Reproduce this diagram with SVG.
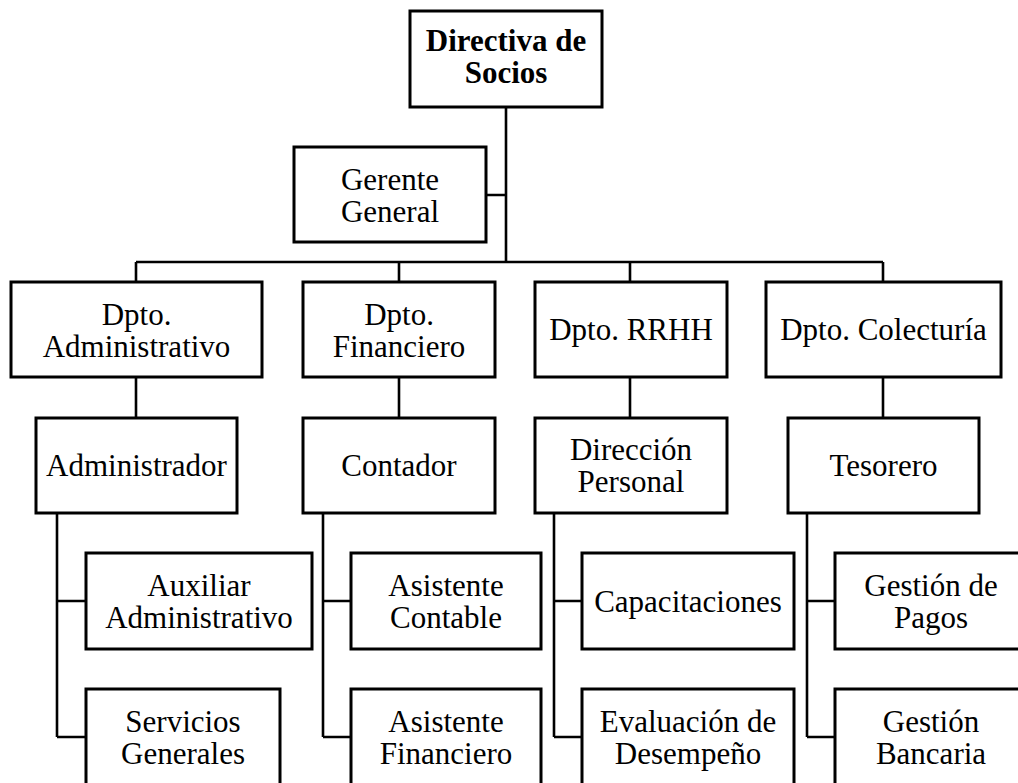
<svg xmlns="http://www.w3.org/2000/svg" width="1018" height="783" viewBox="0 0 1018 783">
<style>
.box{fill:#fff;stroke:#000;stroke-width:3}
.t{font-family:"Liberation Serif","Times New Roman",serif;font-size:31px;fill:#000;text-anchor:middle}
.b{font-weight:bold}
.c{fill:none;stroke:#000;stroke-width:2.6}
</style>
<rect width="1018" height="783" fill="#fff"/>
<g id="connectors">
<path class="c" d="M506,107 V262 M486,195 H506 M136,262 H883 M136,262 V282 M399,262 V282 M630,262 V282 M883,262 V282"/>
<path class="c" d="M136,377 V418 M399,377 V418 M630,377 V418 M883,377 V418"/>
<path class="c" d="M57,513 V737 M57,601 H86 M57,737 H86"/>
<path class="c" d="M323,513 V737 M323,601 H351 M323,737 H351"/>
<path class="c" d="M554,513 V737 M554,601 H582 M554,737 H582"/>
<path class="c" d="M807,513 V737 M807,601 H835 M807,737 H835"/>
</g>
<g id="directiva"><rect class="box" x="410" y="11" width="192" height="96"/><text class="t b" x="506" y="51">Directiva de</text><text class="t b" x="506" y="83">Socios</text></g>
<g id="gerente"><rect class="box" x="294" y="147" width="192" height="95"/><text class="t" x="390" y="189.5">Gerente</text><text class="t" x="390" y="222">General</text></g>
<g id="dpto-admin"><rect class="box" x="11" y="282" width="251" height="95"/><text class="t" x="136.5" y="324.5">Dpto.</text><text class="t" x="136.5" y="357">Administrativo</text></g>
<g id="dpto-fin"><rect class="box" x="303" y="282" width="192" height="95"/><text class="t" x="399" y="324.5">Dpto.</text><text class="t" x="399" y="357">Financiero</text></g>
<g id="dpto-rrhh"><rect class="box" x="535" y="282" width="192" height="95"/><text class="t" x="631" y="340">Dpto. RRHH</text></g>
<g id="dpto-colecturia"><rect class="box" x="766" y="282" width="235" height="95"/><text class="t" x="883.5" y="340">Dpto. Colecturía</text></g>
<g id="administrador"><rect class="box" x="36" y="418" width="201" height="95"/><text class="t" x="136.5" y="476">Administrador</text></g>
<g id="contador"><rect class="box" x="303" y="418" width="192" height="95"/><text class="t" x="399" y="476">Contador</text></g>
<g id="direccion"><rect class="box" x="535" y="418" width="192" height="95"/><text class="t" x="631" y="460">Dirección</text><text class="t" x="631" y="492">Personal</text></g>
<g id="tesorero"><rect class="box" x="788" y="418" width="191" height="95"/><text class="t" x="883.5" y="476">Tesorero</text></g>
<g id="auxiliar"><rect class="box" x="86" y="553" width="226" height="96"/><text class="t" x="199" y="596">Auxiliar</text><text class="t" x="199" y="628">Administrativo</text></g>
<g id="servicios"><rect class="box" x="86" y="689" width="194" height="96"/><text class="t" x="183" y="732">Servicios</text><text class="t" x="183" y="764">Generales</text></g>
<g id="asist-contable"><rect class="box" x="351" y="553" width="190" height="96"/><text class="t" x="446" y="596">Asistente</text><text class="t" x="446" y="628">Contable</text></g>
<g id="asist-financiero"><rect class="box" x="351" y="689" width="190" height="96"/><text class="t" x="446" y="732">Asistente</text><text class="t" x="446" y="764">Financiero</text></g>
<g id="capacitaciones"><rect class="box" x="582" y="553" width="212" height="96"/><text class="t" x="688" y="611.5">Capacitaciones</text></g>
<g id="evaluacion"><rect class="box" x="582" y="689" width="212" height="96"/><text class="t" x="688" y="732">Evaluación de</text><text class="t" x="688" y="764">Desempeño</text></g>
<g id="gestion-pagos"><rect class="box" x="835" y="553" width="192" height="96"/><text class="t" x="931" y="596">Gestión de</text><text class="t" x="931" y="628">Pagos</text></g>
<g id="gestion-bancaria"><rect class="box" x="835" y="689" width="192" height="96"/><text class="t" x="931" y="732">Gestión</text><text class="t" x="931" y="764">Bancaria</text></g>
</svg>
